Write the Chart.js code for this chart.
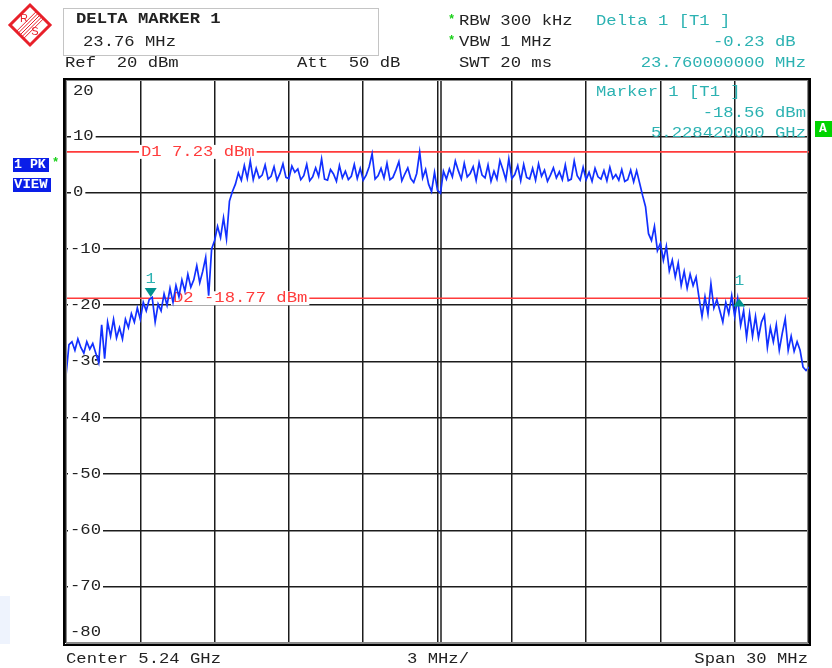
<!DOCTYPE html>
<html>
<head>
<meta charset="utf-8">
<script src="https://cdn.jsdelivr.net/npm/chart.js@4.4.0/dist/chart.umd.min.js"></script>
<style>
  html, body { margin: 0; padding: 0; background: #ffffff; }
  canvas { display: block; }
</style>
</head>
<body>
<canvas id="spectrum" width="832" height="668"></canvas>
<script>
// Sweep settings (frequencies in MHz)
const startMHz = 5225;
const stopMHz = 5255;
const sweepStepMHz = 0.12;
const divisionMHz = 3;

// Level axis (dBm)
const refLevel = 20;
const bottomLevel = -80;
const levelDivision = 10;
const yTickLabels = ['20', '10', '0', '-10', '-20', '-30', '-40', '-50', '-60', '-70', '-80'];

// Trace 1, max-peak detector (dBm), one value per sweep point
const levels = [
  -32.5, -27, -26.5, -28, -26, -27.5, -28.5, -26.5, -27.8, -26.8,
  -28.5, -30.2, -23.5, -29.5, -23, -25.5, -22.5, -25.8, -24, -26,
  -22.5, -24, -21.5, -23, -20.5, -22.5, -19.5, -21, -19, -18.6,
  -23, -19.8, -21, -18, -20, -17, -19.5, -16.5, -18.5, -15.5,
  -17.5, -14.5, -16.8, -15.5, -13, -16, -14, -11.5, -18.3, -10,
  -8.5, -6, -8, -4.5, -8.2, -1.5, 0.2, 1.5, 3.5, 2.2,
  4.8, 2.5, 5.6, 2.3,
  4.3, 2.6, 3.1, 4.9, 2.4, 2.9, 4.6, 2.2, 3.4, 5.1,
  2.7, 2.5, 4.7, 3.6, 4.2, 2.3, 3.0, 5.0, 2.1, 2.8,
  4.4, 2.9, 6.0, 2.4, 2.2, 4.1, 3.3, 2.0, 4.8, 2.6,
  3.8, 2.3, 2.9, 5.0, 2.5, 4.3, 2.2, 3.1, 4.6, 6.9,
  2.4, 3.0, 4.3, 2.6, 5.2, 2.3, 2.7, 4.0, 5.5, 2.1,
  3.3, 4.4, 2.5, 1.8, 3.4, 7.2, 2.6, 4.1, 1.5, 0.2,
  3.6, 0.4, -0.1, 3.8, 2.4, 4.2, 2.8, 5.6, 3.9, 2.4,
  5.2, 2.8, 3.4, 4.6, 2.2, 5.3, 3.1, 2.6, 4.9, 2.0,
  3.8, 2.4, 5.7, 4.1, 2.3, 6.0, 2.5, 3.2, 4.8, 2.1,
  5.0, 2.7, 2.4, 4.3, 2.2, 5.1, 2.9, 4.0, 2.0, 3.1,
  4.4, 2.6, 3.7, 2.3, 4.9, 2.1, 2.4, 5.6, 3.0, 2.2,
  4.5, 2.3, 3.6, 2.0, 4.3, 2.8, 2.4, 3.9, 2.1, 4.5,
  2.5, 3.2, 2.2, 4.1, 2.0, 2.3, 4.0, 1.9, 3.9, 1.7,
  -0.5, -2.5, -7.3, -8.5, -6.0, -10.3,
  -9.0, -12.0, -9.5, -13.9, -12.0, -15.0, -12.5, -16.5, -14.0, -17.0,
  -14.5, -16.5, -15.0, -18.7, -22.0, -18.5, -21.5, -16.2, -20.5, -19.0,
  -21.0, -23.0, -19.5, -21.5, -18.3, -22.0, -18.8, -23.6, -21.0, -25.7,
  -21.5, -25.5, -22.0, -25.8, -23.0, -21.8, -27.5, -24.0, -26.5, -23.5,
  -28.0, -25.0, -22.4, -28.0, -25.5, -28.2, -26.5, -28.0, -31.0, -31.6, -31.0
];

// Display lines
const displayLineNames = ['D1', 'D2'];
const displayLineLevels = [7.23, -18.77];

// Markers
const marker1FreqMHz = 5228.42;
const marker1Level = -18.56;
const delta1OffsetMHz = 23.76;
const delta1Db = -0.23;

// Header texts
const headerLeft = ['DELTA MARKER 1', '23.76 MHz', 'Ref  20 dBm', 'Att  50 dB'];
const headerSettings = ['RBW 300 kHz', 'VBW 1 MHz', 'SWT 20 ms'];
const headerDelta = ['Delta 1 [T1 ]', '-0.23 dB ', '23.760000000 MHz'];
const markerInfo = ['Marker 1 [T1 ]', '-18.56 dBm', '5.228420000 GHz'];
const footer = ['Center 5.24 GHz', '3 MHz/', 'Span 30 MHz'];

const COLORS = {
  text: '#222222',
  teal: '#2cb2b2',
  markerFill: '#00928f',
  red: '#ff3b3b',
  trace: '#1230ff',
  grid: '#1c1c1c',
  green: '#18d018',
  badge: '#0a1ee8'
};

const FONT = '"Liberation Mono", "Courier New", monospace';
const STRETCH = 1.23;

// Monospaced text, widened horizontally like the instrument's screen font
function monoText(ctx, s, x, y, color, align, bold, bg, stretch, size) {
  const sx = stretch || STRETCH;
  ctx.save();
  ctx.font = (bold ? 'bold ' : '') + (size || 14) + 'px ' + FONT;
  ctx.textBaseline = 'middle';
  ctx.textAlign = 'left';
  const w = ctx.measureText(s).width * sx;
  let left = x;
  if (align === 'right') left = x - w;
  else if (align === 'center') left = x - w / 2;
  if (bg) {
    ctx.fillStyle = bg;
    ctx.fillRect(left - 2, y - 7, w + 4, 14);
  }
  ctx.translate(left, y);
  ctx.scale(sx, 1);
  ctx.fillStyle = color;
  ctx.fillText(s, 0, 0);
  ctx.restore();
  return w;
}

function drawLogo(ctx) {
  const cx = 30, cy = 25, r = 20;
  ctx.save();
  ctx.strokeStyle = '#e8202a';
  ctx.fillStyle = '#e8202a';
  ctx.lineWidth = 3;
  ctx.beginPath();
  ctx.moveTo(cx, cy - r); ctx.lineTo(cx + r, cy); ctx.lineTo(cx, cy + r); ctx.lineTo(cx - r, cy);
  ctx.closePath();
  ctx.stroke();
  ctx.lineWidth = 1;
  for (let k = -2; k <= 2; k++) {
    const o = k * 1.8;
    ctx.beginPath();
    ctx.moveTo(cx - 10 + o, cy + 10 + o);
    ctx.lineTo(cx + 10 + o, cy - 10 + o);
    ctx.stroke();
  }
  ctx.font = '11px "Liberation Sans", Arial, sans-serif';
  ctx.textAlign = 'center';
  ctx.textBaseline = 'middle';
  ctx.fillText('R', cx - 6, cy - 6);
  ctx.fillText('S', cx + 5, cy + 7);
  ctx.restore();
}

const analyzerPlugin = {
  id: 'analyzerScreen',
  beforeDatasetsDraw(chart) {
    const ctx = chart.ctx;
    const xs = chart.scales.x, ys = chart.scales.y;
    const area = chart.chartArea;

    // doubled centre graticule line
    const xc = xs.getPixelForValue((startMHz + stopMHz) / 2);
    ctx.save();
    ctx.strokeStyle = COLORS.grid;
    ctx.lineWidth = 1.5;
    ctx.beginPath();
    ctx.moveTo(Math.round(xc) + 3, area.top);
    ctx.lineTo(Math.round(xc) + 3, area.bottom);
    ctx.stroke();
    ctx.restore();

    // level labels sitting on the graticule
    yTickLabels.forEach((lab) => {
      const v = parseFloat(lab);
      let y = ys.getPixelForValue(v);
      let bg = '#ffffff';
      if (v === refLevel) { y += 11; bg = null; }
      if (v === bottomLevel) { y -= 11; bg = null; }
      const x = v < 0 ? 70 : 73;
      monoText(ctx, lab, x, y, COLORS.text, 'left', false, bg);
    });

    // display lines with their labels
    const labelStarts = [141, 173];
    displayLineLevels.forEach((lvl, i) => {
      const y = ys.getPixelForValue(lvl);
      ctx.save();
      ctx.strokeStyle = COLORS.red;
      ctx.lineWidth = 1.6;
      ctx.beginPath();
      ctx.moveTo(area.left, y);
      ctx.lineTo(area.right, y);
      ctx.stroke();
      ctx.restore();
      const s = displayLineNames[i] + ' ' + lvl.toFixed(2) + ' dBm';
      monoText(ctx, s, labelStarts[i], y, COLORS.red, 'left', false, '#ffffff');
    });
  },
  afterDatasetsDraw(chart) {
    const ctx = chart.ctx;
    const xs = chart.scales.x, ys = chart.scales.y;

    // marker 1: downward triangle resting on the trace
    const m1x = xs.getPixelForValue(marker1FreqMHz);
    const m1y = ys.getPixelForValue(marker1Level);
    ctx.save();
    ctx.fillStyle = COLORS.markerFill;
    ctx.beginPath();
    ctx.moveTo(m1x - 6, m1y - 9);
    ctx.lineTo(m1x + 6, m1y - 9);
    ctx.lineTo(m1x, m1y);
    ctx.closePath();
    ctx.fill();
    ctx.restore();
    monoText(ctx, '1', m1x, m1y - 18, COLORS.teal, 'center');

    // delta marker 1: upward triangle
    const d1x = xs.getPixelForValue(marker1FreqMHz + delta1OffsetMHz);
    const d1y = ys.getPixelForValue(marker1Level + delta1Db);
    ctx.save();
    ctx.fillStyle = COLORS.markerFill;
    ctx.beginPath();
    ctx.moveTo(d1x - 6, d1y + 8);
    ctx.lineTo(d1x + 6, d1y + 8);
    ctx.lineTo(d1x, d1y);
    ctx.closePath();
    ctx.fill();
    ctx.restore();
    monoText(ctx, '1', d1x, d1y - 17, COLORS.teal, 'center');

    // marker readout inside the diagram
    monoText(ctx, markerInfo[0], 596, 92, COLORS.teal, 'left');
    monoText(ctx, markerInfo[1], 806, 113, COLORS.teal, 'right');
    monoText(ctx, markerInfo[2], 806, 133, COLORS.teal, 'right');

    // diagram frame
    ctx.save();
    ctx.strokeStyle = '#000000';
    ctx.lineWidth = 2;
    ctx.strokeRect(64, 79, 746, 566);
    ctx.strokeStyle = '#8a8a8a';
    ctx.lineWidth = 1;
    ctx.strokeRect(66.5, 80.5, 741, 562);
    ctx.restore();
  },
  afterDraw(chart) {
    const ctx = chart.ctx;
    drawLogo(ctx);

    // marker box
    ctx.save();
    ctx.strokeStyle = '#c4c4c4';
    ctx.lineWidth = 1;
    ctx.strokeRect(63.5, 8.5, 315, 47);
    ctx.restore();
    monoText(ctx, headerLeft[0], 76, 19, COLORS.text, 'left', true);
    monoText(ctx, headerLeft[1], 83, 42, COLORS.text, 'left');
    monoText(ctx, headerLeft[2], 65, 63, COLORS.text, 'left');
    monoText(ctx, headerLeft[3], 297, 63, COLORS.text, 'left');

    // instrument settings
    monoText(ctx, '*', 448, 20, COLORS.green, 'left', true, null, 1, 12);
    monoText(ctx, '*', 448, 41, COLORS.green, 'left', true, null, 1, 12);
    monoText(ctx, headerSettings[0], 459, 21, COLORS.text, 'left');
    monoText(ctx, headerSettings[1], 459, 42, COLORS.text, 'left');
    monoText(ctx, headerSettings[2], 459, 63, COLORS.text, 'left');

    // delta marker readout
    monoText(ctx, headerDelta[0], 596, 21, COLORS.teal, 'left');
    monoText(ctx, headerDelta[1], 806, 42, COLORS.teal, 'right');
    monoText(ctx, headerDelta[2], 806, 63, COLORS.teal, 'right');

    // trace badges
    ctx.save();
    ctx.fillStyle = COLORS.badge;
    ctx.fillRect(13, 158, 36, 14);
    ctx.fillRect(13, 178, 38, 14);
    ctx.fillStyle = '#00d400';
    ctx.fillRect(815, 121, 17, 16);
    ctx.fillStyle = '#eef3fd';
    ctx.fillRect(0, 596, 10, 48);
    ctx.restore();
    monoText(ctx, '1 PK', 14, 165, '#ffffff', 'left', true, null, 1.02, 13);
    monoText(ctx, 'VIEW', 14, 185, '#ffffff', 'left', true, null, 1.08, 13);
    monoText(ctx, '*', 52, 163, COLORS.green, 'left', true, null, 1, 12);
    monoText(ctx, 'A', 819, 129, '#ffffff', 'left', true, null, 1, 13);

    // footer
    monoText(ctx, footer[0], 66, 659, COLORS.text, 'left');
    monoText(ctx, footer[1], 407, 659, COLORS.text, 'left');
    monoText(ctx, footer[2], 808, 659, COLORS.text, 'right');
  }
};

const tracePoints = levels.map((v, i) => ({ x: startMHz + i * sweepStepMHz, y: v }));

new Chart(document.getElementById('spectrum').getContext('2d'), {
  type: 'line',
  data: {
    datasets: [{
      label: 'Trace 1',
      data: tracePoints,
      borderColor: COLORS.trace,
      borderWidth: 1.7,
      pointRadius: 0,
      tension: 0,
      fill: false
    }]
  },
  options: {
    responsive: false,
    animation: false,
    devicePixelRatio: 1,
    layout: { padding: { left: 66, top: 80, right: 23, bottom: 25 } },
    plugins: { legend: { display: false }, tooltip: { enabled: false } },
    scales: {
      x: {
        type: 'linear',
        min: startMHz,
        max: stopMHz,
        ticks: { display: false, stepSize: divisionMHz },
        grid: { color: COLORS.grid, lineWidth: 1.5, drawTicks: false },
        border: { display: false },
        afterFit(scale) { scale.height = 0; }
      },
      y: {
        min: bottomLevel,
        max: refLevel,
        ticks: { display: false, stepSize: levelDivision },
        grid: { color: COLORS.grid, lineWidth: 1.5, drawTicks: false },
        border: { display: false },
        afterFit(scale) { scale.width = 0; }
      }
    }
  },
  plugins: [analyzerPlugin]
});
</script>
</body>
</html>
